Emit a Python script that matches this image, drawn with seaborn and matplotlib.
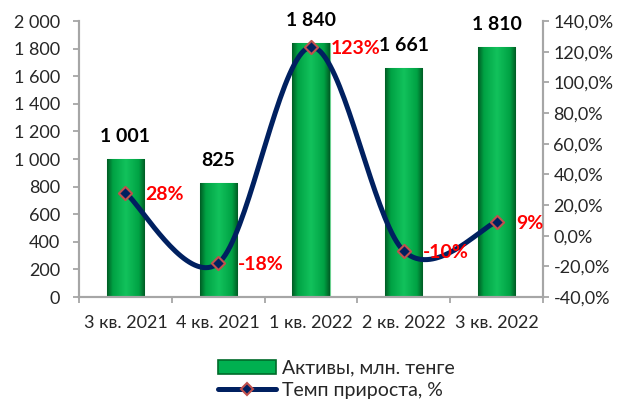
import numpy as np
import pandas as pd
import matplotlib
matplotlib.use("Agg")
import matplotlib.pyplot as plt
import seaborn as sns
from matplotlib.colors import LinearSegmentedColormap
from matplotlib.patches import Patch
from matplotlib.lines import Line2D
from matplotlib.ticker import FuncFormatter, FixedLocator

quarters = ["3 кв. 2021", "4 кв. 2021", "1 кв. 2022", "2 кв. 2022", "3 кв. 2022"]
assets = [1001, 825, 1840, 1661, 1810]
growth = [28, -18, 123, -10, 9]

bar_label = "Активы, млн. тенге"
line_label = "Темп прироста, %"

GREY = "#A6A6A6"
NAVY = "#002060"
MARKER_EDGE = "#C0504D"


def smooth_curve(xs, ys, steps=40):
    # Excel-style smoothed line (Catmull-Rom through the points)
    xs = np.asarray(xs, float)
    ys = np.asarray(ys, float)
    px = np.concatenate([[xs[0]], xs, [xs[-1]]])
    py = np.concatenate([[ys[0]], ys, [ys[-1]]])
    out_x, out_y = [], []
    t = np.linspace(0, 1, steps)
    for i in range(1, len(px) - 2):
        p0, p1, p2, p3 = [np.array([px[j], py[j]]) for j in (i - 1, i, i + 1, i + 2)]
        c1 = p1 + (p2 - p0) / 6
        c2 = p2 - (p3 - p1) / 6
        b = ((1 - t) ** 3)[:, None] * p1 + (3 * (1 - t) ** 2 * t)[:, None] * c1 \
            + (3 * (1 - t) * t ** 2)[:, None] * c2 + (t ** 3)[:, None] * p2
        out_x.extend(b[:, 0])
        out_y.extend(b[:, 1])
    return np.array(out_x), np.array(out_y)


sns.set_style("white")
plt.rcParams["font.family"] = ["Lato", "DejaVu Sans"]
plt.rcParams["font.size"] = 13

df = pd.DataFrame({"quarter": quarters, "assets": assets, "growth": growth})

fig = plt.figure(figsize=(6.29, 4.01), dpi=100)
ax = fig.add_axes([79 / 629, 1 - 297 / 401, (543 - 79) / 629, (297 - 21) / 401])

sns.barplot(data=df, x="quarter", y="assets", ax=ax, width=0.4,
            color="#00B050", edgecolor="#6BD08F", linewidth=0.8, saturation=1)

# cylinder-ish gradient on each bar
grad_cmap = LinearSegmentedColormap.from_list(
    "bar", [(0, "#005E25"), (0.15, "#00A244"), (0.5, "#12C25C"), (0.85, "#00A244"), (1, "#005E25")])
grad = np.linspace(0, 1, 64).reshape(1, -1)
for p in ax.patches:
    x0, y0 = p.get_x(), p.get_y()
    w, h = p.get_width(), p.get_height()
    im = ax.imshow(grad, cmap=grad_cmap, aspect="auto", extent=[x0, x0 + w, y0, y0 + h],
                   zorder=p.get_zorder() + 0.1)
    im.set_clip_path(p)

ax.set_xlim(-0.5, 4.5)
ax.set_ylim(0, 2000)
ax.yaxis.set_major_locator(FixedLocator(range(0, 2001, 200)))
ax.yaxis.set_major_formatter(FuncFormatter(lambda v, _: f"{int(v):,}".replace(",", " ")))
ax.set_xlabel("")
ax.set_ylabel("")

for i, v in enumerate(assets):
    ax.annotate(f"{v:,}".replace(",", " "), (i, v), xytext=(0, 16), textcoords="offset points",
                ha="center", va="center", fontweight="bold", fontsize=14, color="black",
                annotation_clip=False, zorder=10)

ax2 = ax.twinx()
ax2.set_ylim(-40, 140)
ax2.yaxis.set_major_locator(FixedLocator(range(-40, 141, 20)))
ax2.yaxis.set_major_formatter(FuncFormatter(lambda v, _: f"{v:.1f}%".replace(".", ",")))

sx, sy = smooth_curve(range(len(growth)), growth)
ax2.plot(sx, sy, color=NAVY, lw=3.6, solid_capstyle="round", zorder=3)
sns.scatterplot(x=list(range(len(growth))), y=growth, ax=ax2, marker="D", s=45,
                color=NAVY, edgecolor=MARKER_EDGE, linewidth=1.5, zorder=4)

for i, g in enumerate(growth):
    ax2.annotate(f"{g}%", (i, g), xytext=(14, -1), textcoords="offset points",
                 ha="left", va="center", fontweight="bold", fontsize=14, color="#FF0000",
                 annotation_clip=False, zorder=10)

for a in (ax, ax2):
    for s in a.spines.values():
        s.set_color(GREY)
        s.set_linewidth(1.5)
    a.spines["top"].set_visible(False)
    a.grid(False)

ax.tick_params(axis="y", direction="out", length=4.5, width=1.3, color=GREY, pad=9,
               left=True, labelsize=13)
ax2.tick_params(axis="y", direction="out", length=4.5, width=1.3, color=GREY, pad=3,
                right=True, labelsize=13)
ax.set_xticks(range(len(quarters)))
ax.set_xticklabels(quarters)
ax.tick_params(axis="x", which="major", length=0, pad=13, labelsize=13)
ax.xaxis.set_minor_locator(FixedLocator(np.arange(-0.5, 4.6, 1)))
ax.tick_params(axis="x", which="minor", direction="out", length=4.5, width=1.3, color=GREY,
               bottom=True)

handles = [Patch(facecolor="#00B050", edgecolor="#006B2A", linewidth=1.2),
           Line2D([0], [0], color=NAVY, lw=3.6, marker="D", markersize=6.5,
                  markerfacecolor=NAVY, markeredgecolor=MARKER_EDGE, markeredgewidth=1.5)]
fig.legend(handles, [bar_label, line_label], loc="upper left",
           bbox_to_anchor=(208 / 629, 1 - 350 / 401), frameon=False, fontsize=14,
           handlelength=3.0, handleheight=0.7, handletextpad=0.3, labelspacing=0.25,
           borderpad=0)

fig.savefig("out.png", dpi=100)
